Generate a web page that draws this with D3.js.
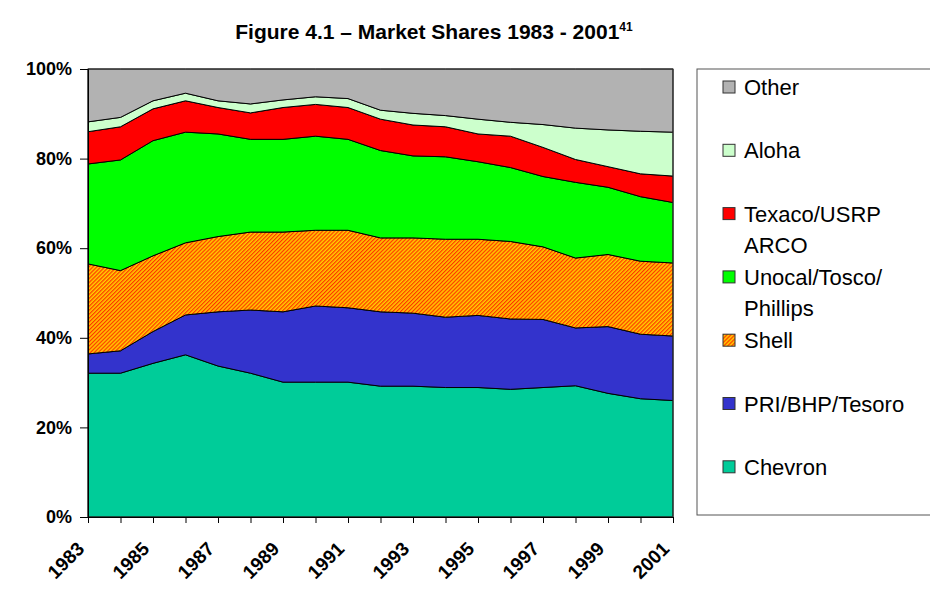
<!DOCTYPE html>
<html>
<head>
<meta charset="utf-8">
<script src="https://cdn.jsdelivr.net/npm/d3@7"></script>
<style>
  body { margin: 0; background: #fff; }
  text { font-family: Arial, "Liberation Sans", sans-serif; }
</style>
</head>
<body>
<div class="chart-js"></div>
<script>
'use strict';

// Years on the x axis
var years = [1983, 1984, 1985, 1986, 1987, 1988, 1989, 1990, 1991, 1992,
             1993, 1994, 1995, 1996, 1997, 1998, 1999, 2000, 2001];

// Shares per company, percent (bottom to top in the stack)
var chevron = [32.1, 32.1, 34.3, 36.2, 33.7, 32.1, 30.1, 30.1, 30.1, 29.2, 29.2, 28.9, 28.9, 28.5, 28.9, 29.3, 27.6, 26.4, 26.0];
var pri     = [4.3, 5.0, 7.1, 8.9, 12.1, 14.1, 15.7, 17.0, 16.6, 16.6, 16.3, 15.7, 16.1, 15.7, 15.2, 12.9, 14.9, 14.4, 14.4];
var shell   = [20.1, 17.9, 16.9, 16.1, 16.8, 17.4, 17.8, 16.9, 17.3, 16.5, 16.8, 17.4, 17.0, 17.3, 16.2, 15.6, 16.1, 16.3, 16.3];
var unocal  = [22.3, 24.7, 25.7, 24.7, 22.9, 20.7, 20.7, 21.0, 20.3, 19.5, 18.3, 18.4, 17.3, 16.5, 15.7, 16.9, 15.0, 14.4, 13.5];
var texaco  = [7.2, 7.4, 7.1, 7.0, 5.9, 5.9, 7.1, 7.1, 7.1, 7.0, 6.9, 6.7, 6.2, 7.0, 6.5, 5.1, 4.6, 5.1, 5.9];
var aloha   = [2.2, 2.1, 1.8, 1.7, 1.5, 2.0, 1.7, 1.7, 2.0, 2.0, 2.6, 2.5, 3.3, 3.1, 5.1, 7.0, 8.2, 9.5, 9.8];
var other   = [11.8, 10.8, 7.1, 5.4, 7.1, 7.8, 6.9, 6.2, 6.6, 9.2, 9.9, 10.4, 11.2, 11.9, 12.4, 13.2, 13.6, 13.9, 14.1];

var seriesKeys = ['chevron', 'pri', 'shell', 'unocal', 'texaco', 'aloha', 'other'];
var seriesNames = {
  chevron: ['Chevron'],
  pri: ['PRI/BHP/Tesoro'],
  shell: ['Shell'],
  unocal: ['Unocal/Tosco/', 'Phillips'],
  texaco: ['Texaco/USRP', 'ARCO'],
  aloha: ['Aloha'],
  other: ['Other']
};
var seriesColors = {
  chevron: '#00cc99',
  pri: '#3333cc',
  shell: 'url(#shellHatch)',
  unocal: '#00ff00',
  texaco: '#ff0000',
  aloha: '#ccffcc',
  other: '#b2b2b2'
};
var yTicks = [0, 20, 40, 60, 80, 100];
var xLabelYears = [1983, 1985, 1987, 1989, 1991, 1993, 1995, 1997, 1999, 2001];

var title = 'Figure 4.1 \u2013 Market Shares 1983 - 2001';
var titleNote = '41';

function run() {
  var owidth = 930;
  var oheight = 593;
  var margin = {top: 69, right: 257, bottom: 76, left: 88};
  var cwidth = owidth - margin.left - margin.right;
  var cheight = oheight - margin.top - margin.bottom;

  var rows = years.map(function(y, i) {
    return {
      year: y, chevron: chevron[i], pri: pri[i], shell: shell[i],
      unocal: unocal[i], texaco: texaco[i], aloha: aloha[i], other: other[i]
    };
  });

  var stacked = d3.stack().keys(seriesKeys)(rows);

  var x = d3.scaleLinear()
    .domain(d3.extent(years))
    .range([0, cwidth]);

  var y = d3.scaleLinear()
    .domain([0, 100])
    .range([cheight, 0]);

  var area = d3.area()
    .x(function(d) { return x(d.data.year); })
    .y0(function(d) { return y(d[0]); })
    .y1(function(d) { return y(Math.min(d[1], 100)); });

  var svg = d3.select('.chart-js').append('svg')
    .attr('width', owidth)
    .attr('height', oheight);

  // hatch pattern for Shell
  var pat = svg.append('defs').append('pattern')
    .attr('id', 'shellHatch')
    .attr('patternUnits', 'userSpaceOnUse')
    .attr('width', 2.8)
    .attr('height', 2.8)
    .attr('patternTransform', 'rotate(45)');
  pat.append('rect').attr('width', 2.8).attr('height', 2.8).attr('fill', '#ffcc00');
  pat.append('rect').attr('width', 1.2).attr('height', 2.8).attr('fill', '#ff3300');

  svg.append('text')
    .attr('x', 434)
    .attr('y', 39)
    .attr('text-anchor', 'middle')
    .style('font-size', '21px')
    .style('font-weight', 'bold')
    .text(title)
    .append('tspan')
    .attr('dy', -8)
    .style('font-size', '12px')
    .text(titleNote);

  var chart = svg.append('g')
    .attr('transform', 'translate(' + margin.left + ',' + margin.top + ')');

  chart.selectAll('.layer')
    .data(stacked)
    .enter().append('path')
    .attr('class', 'layer')
    .attr('fill', function(d) { return seriesColors[d.key]; })
    .attr('stroke', '#000')
    .attr('stroke-width', 1)
    .attr('stroke-linejoin', 'round')
    .attr('d', area);

  // plot frame
  chart.append('rect')
    .attr('width', cwidth)
    .attr('height', cheight)
    .attr('fill', 'none')
    .attr('stroke', '#333')
    .attr('stroke-width', 1);

  var yAxis = d3.axisLeft(y)
    .tickValues(yTicks)
    .tickSize(8)
    .tickFormat(function(d) { return d + '%'; });

  var gy = chart.append('g').call(yAxis);
  gy.select('.domain').attr('stroke', '#000');
  gy.selectAll('.tick line').attr('stroke', '#000');
  gy.selectAll('.tick text')
    .attr('x', -16)
    .attr('fill', '#000')
    .style('font-size', '18px')
    .style('font-weight', 'bold')
    .style('font-family', 'Arial, "Liberation Sans", sans-serif');

  var xAxis = d3.axisBottom(x)
    .tickValues(years)
    .tickSize(6)
    .tickFormat(function(d) { return xLabelYears.indexOf(d) >= 0 ? d : ''; });

  var gx = chart.append('g')
    .attr('transform', 'translate(0,' + cheight + ')')
    .call(xAxis);
  gx.select('.domain').attr('stroke', '#000');
  gx.selectAll('.tick line').attr('stroke', '#000');
  gx.selectAll('.tick text')
    .attr('y', 0)
    .attr('dy', 0)
    .attr('fill', '#000')
    .attr('text-anchor', 'end')
    .attr('transform', 'translate(-3,33) rotate(-45)')
    .style('font-size', '19px')
    .style('font-weight', 'bold')
    .style('font-family', 'Arial, "Liberation Sans", sans-serif');

  // legend
  var legend = svg.append('g').attr('transform', 'translate(697,69)');
  legend.append('rect')
    .attr('width', 240)
    .attr('height', 446)
    .attr('fill', '#fff')
    .attr('stroke', '#555')
    .attr('stroke-width', 1);

  var legendKeys = seriesKeys.slice().reverse();
  var items = legend.selectAll('.item')
    .data(legendKeys)
    .enter().append('g')
    .attr('class', 'item')
    .attr('transform', function(d, i) { return 'translate(0,' + (18 + i * 63.3) + ')'; });

  items.append('rect')
    .attr('x', 26)
    .attr('y', -6)
    .attr('width', 12)
    .attr('height', 12)
    .attr('fill', function(d) { return seriesColors[d]; })
    .attr('stroke', '#333')
    .attr('stroke-width', 1);

  items.append('text')
    .attr('x', 47)
    .attr('y', 8)
    .style('font-size', '22px')
    .each(function(d) {
      var t = d3.select(this);
      seriesNames[d].forEach(function(line, j) {
        t.append('tspan')
          .attr('x', 47)
          .attr('dy', j === 0 ? 0 : 31)
          .text(line);
      });
    });
}

document.addEventListener('DOMContentLoaded', run);
</script>
</body>
</html>
